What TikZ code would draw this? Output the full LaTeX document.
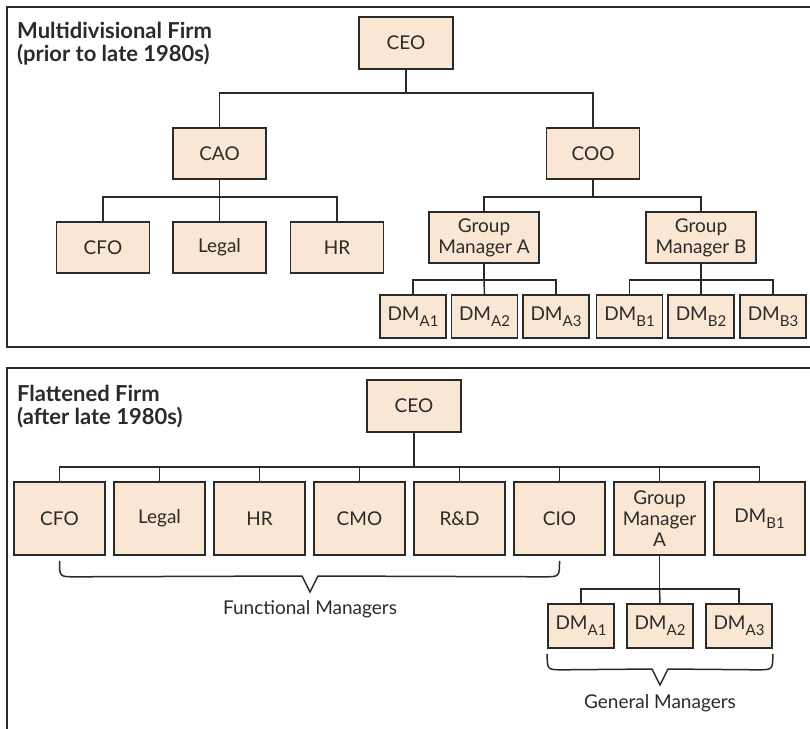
\documentclass[tikz,border=0pt]{standalone}
\usepackage{fontspec}
\setmainfont{Lato}
\usepackage{xcolor}
\definecolor{boxfill}{RGB}{249,231,212}
\definecolor{ink}{RGB}{42,42,42}
\usepackage{tikz}
\usetikzlibrary{calc}
\newcommand{\dmsub}[1]{DM\raisebox{-0.6ex}{\fontsize{15}{15}\selectfont #1}}

\begin{document}
\begin{tikzpicture}[x=1pt, y=-1pt,
  box/.style={draw=ink, line width=1.6pt, fill=boxfill, text=ink, align=center,
    inner sep=0pt, font=\fontsize{19}{21}\selectfont},
  unit/.style={box, minimum width=93pt, minimum height=51pt},
  dmbox/.style={box, minimum width=66pt, minimum height=43pt},
  line/.style={draw=ink, line width=1.5pt},
  panel/.style={draw=ink, line width=1.8pt},
  title/.style={anchor=north west, align=left, text=ink, inner sep=0pt,
    font=\bfseries\fontsize{22}{23}\selectfont},
  note/.style={text=ink, inner sep=0pt, font=\fontsize{19}{21}\selectfont}]
  \useasboundingbox (0,0) rectangle (810,728);
  % frames, cut off at the right and bottom
  \begin{scope}
    \clip (0,0) rectangle (810,728);
    \draw[panel] (7,7) rectangle (840,347);
    \draw[panel] (7,368) rectangle (840,760);
  \end{scope}

  % multidivisional firm
  \node[title] (t1) at (17,22) {Multidivisional Firm\\(prior to late 1980s)};
  \node[unit, minimum width=94pt, minimum height=52pt] (ceo) at (406,43) {CEO};
  \node[unit] (cao) at (219.5,153.5) {CAO};
  \node[unit] (coo) at (593,153.5) {COO};
  \foreach \nm/\txt/\x in {cfo/CFO/103, legal/Legal/219.5, hr/HR/337}
    \node[unit] (\nm) at (\x,247.5) {\txt};
  \node[unit, minimum width=110pt] (gma) at (484,237.5) {Group\\Manager A};
  \node[unit, minimum width=110pt] (gmb) at (701,237.5) {Group\\Manager B};
  \foreach \nm/\txt/\x in {dma1/A1/413, dma2/A2/484.5, dma3/A3/556,
                           dmb1/B1/629.5, dmb2/B2/701, dmb3/B3/773}
    \node[dmbox] (\nm) at (\x,316.5) {\dmsub{\txt}};

  \draw[line] (ceo.south) -- ++(0,23) coordinate (j1);
  \draw[line] (cao.north) |- (j1) -| (coo.north);
  \draw[line] (cao.south) -- ++(0,17) coordinate (j2);
  \draw[line] (cfo.north) |- (j2) -| (hr.north);
  \draw[line] (j2) -- (legal.north);
  \draw[line] (coo.south) -- ++(0,17) coordinate (j3);
  \draw[line] (gma.north) |- (j3) -| (gmb.north);
  \draw[line] (gma.south) -- ++(0,16) coordinate (j4);
  \draw[line] (dma1.north) |- (j4) -| (dma3.north);
  \draw[line] (j4) -- (dma2.north);
  \draw[line] (gmb.south) -- ++(0,16) coordinate (j5);
  \draw[line] (dmb1.north) |- (j5) -| (dmb3.north);
  \draw[line] (j5) -- (dmb2.north);

  % flattened firm
  \node[title] (t2) at (17,385) {Flattened Firm\\(after late 1980s)};
  \node[unit, minimum width=94pt, minimum height=52pt] (ceoF) at (414,406) {CEO};
  \foreach \nm/\txt [count=\i from 0] in {cfoF/CFO, legalF/Legal, hrF/HR, cmoF/CMO,
      rdF/R\&D, cioF/CIO, gmaF/{Group\\Manager\\A}, dmbF/{\dmsub{B1}}}
    \node[unit, minimum width=91pt, minimum height=73pt] (\nm) at (59.5+100*\i,518.5) {\txt};
  \foreach \nm/\txt/\x in {dmaF1/A1/581, dmaF2/A2/660, dmaF3/A3/739}
    \node[dmbox, minimum height=44pt] (\nm) at (\x,626) {\dmsub{\txt}};

  \draw[line] (ceoF.south) -- ++(0,34) coordinate (k1);
  \draw[line] (cfoF.north) |- (k1) -| (dmbF.north);
  \foreach \nm in {legalF, hrF, cmoF, rdF, cioF, gmaF}
    \draw[line] (\nm.north) -- (\nm.north |- k1);
  \draw[line] (gmaF.south) -- ++(0,33) coordinate (k2);
  \draw[line] (dmaF1.north) |- (k2) -| (dmaF3.north);
  \draw[line] (k2) -- (dmaF2.north);

  % braces
  \coordinate (b1l) at ($(cfoF.south)+(0,5)$);
  \coordinate (b1r) at ($(cioF.south)+(0,5)$);
  \draw[line] (b1l) .. controls ($(b1l)+(0,16)$) .. ($(b1l)+(16,16)$)
    -- (302,576) -- (310,592) -- (318,576) -- ($(b1r)+(-16,16)$)
    .. controls ($(b1r)+(0,16)$) .. (b1r);
  \node[note] (fm) at (310,609) {Functional Managers};
  \coordinate (b2l) at ($(dmaF1.south west)+(0,5)$);
  \coordinate (b2r) at ($(dmaF3.south east)+(0,5)$);
  \draw[line] (b2l) .. controls ($(b2l)+(0,16)$) .. ($(b2l)+(16,16)$)
    -- (652,669) -- (660,685) -- (668,669) -- ($(b2r)+(-16,16)$)
    .. controls ($(b2r)+(0,16)$) .. (b2r);
  \node[note] (gm) at (660,703) {General Managers};
\end{tikzpicture}
\end{document}
